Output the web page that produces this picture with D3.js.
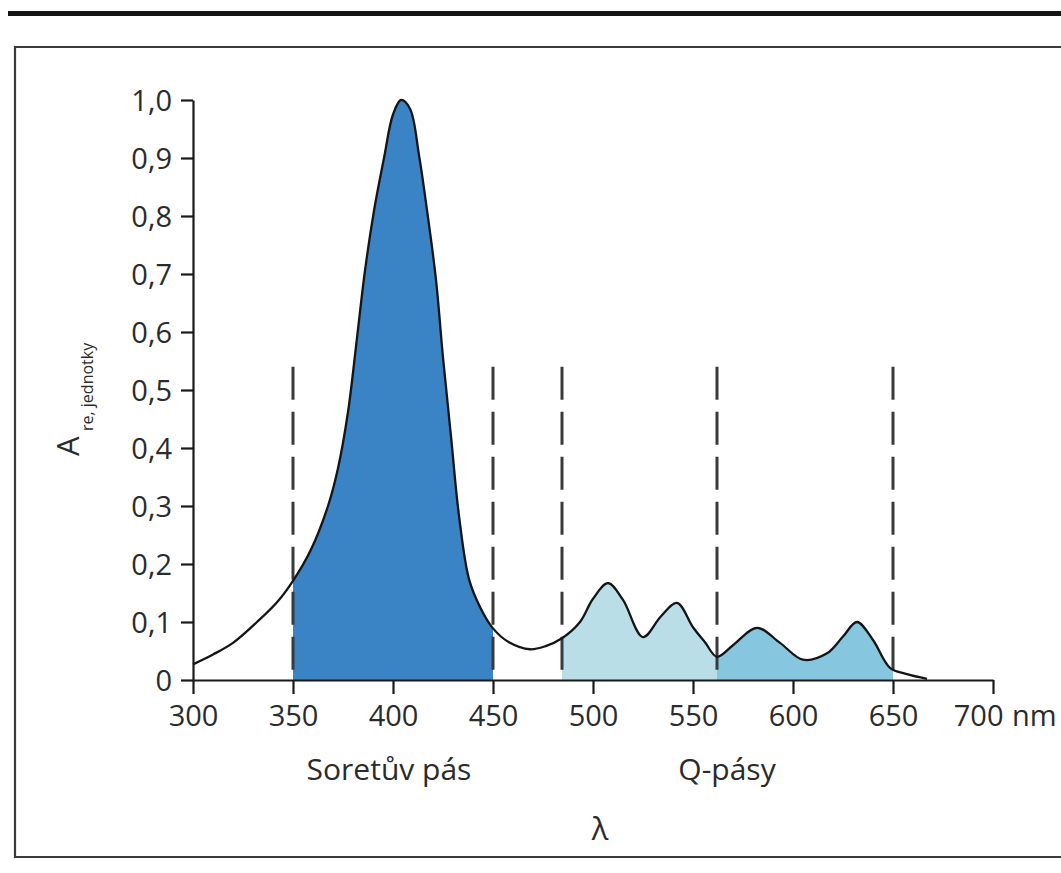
<!DOCTYPE html>
<html>
<head>
<meta charset="utf-8">
<script src="https://cdn.jsdelivr.net/npm/d3@7"></script>
<style>
  html, body { margin: 0; padding: 0; background: #ffffff; }
  svg { display: block; }
  text { font-family: "Open Sans", "Noto Sans", sans-serif; fill: #2b2b2b; }
</style>
</head>
<body>
<svg id="chart" width="1061" height="873"></svg>
<script>
// ---- data ----
const wavelengths = [300,310,320,332,342,350,359,367.5,372.5,377.5,382,386,390.5,395.5,400,404,408.5,413,417,421.5,425,429,433,438,443.5,450,458,468.5,476,484.5,493.5,500,507.5,515,525,534,542,550,556,562,570,582,593.5,605,617,625,632,640,648.5,657,667];
const absorbance  = [0.027,0.044,0.064,0.100,0.134,0.171,0.225,0.300,0.365,0.462,0.59,0.706,0.809,0.900,0.975,1.0,0.985,0.905,0.810,0.690,0.556,0.42,0.283,0.174,0.126,0.089,0.065,0.053,0.058,0.072,0.10,0.14,0.167,0.138,0.074,0.11,0.133,0.091,0.065,0.040,0.06,0.09,0.064,0.035,0.046,0.075,0.10,0.069,0.021,0.01,0.002];

const bandStarts = [350, 484.5, 562];
const bandEnds   = [450, 562, 650];
const bandColors = ["#3a83c5", "#b9dee8", "#86c7df"];
const dividerLines = [350, 450, 484.5, 562, 650];
const dividerTop = 0.54;

const xTickValues = [300,350,400,450,500,550,600,650,700];
const xTickLabels = ["300","350","400","450","500","550","600","650","700"];
const yTickValues = [0,0.1,0.2,0.3,0.4,0.5,0.6,0.7,0.8,0.9,1.0];
const yTickLabels = ["0","0,1","0,2","0,3","0,4","0,5","0,6","0,7","0,8","0,9","1,0"];

const bandLabels = ["Soretův pás", "Q-pásy"];
const bandLabelPos = [398, 567];

// ---- drawing ----
const svg = d3.select("#chart");
const data = wavelengths.map((w, i) => ({ w, a: absorbance[i] }));

const x = d3.scaleLinear().domain([300, 700]).range([193, 993]);
const y = d3.scaleLinear().domain([0, 1]).range([680, 100]);

// page decorations
svg.append("rect").attr("x", 8).attr("y", 11).attr("width", 1061).attr("height", 5).attr("fill", "#151515");
svg.append("path")
  .attr("d", "M1061,47H15V857H1061")
  .attr("fill", "none").attr("stroke", "#3a3a3a").attr("stroke-width", 2.2);

const defs = svg.append("defs");
bandStarts.forEach((s, i) => {
  defs.append("clipPath").attr("id", "band" + i)
    .append("rect")
    .attr("x", x(s)).attr("y", 0)
    .attr("width", x(bandEnds[i]) - x(s)).attr("height", y(0));
});

const curve = d3.curveCatmullRom.alpha(0.5);
const area = d3.area().x(d => x(d.w)).y0(y(0)).y1(d => y(d.a)).curve(curve);
const line = d3.line().x(d => x(d.w)).y(d => y(d.a)).curve(curve);

bandStarts.forEach((s, i) => {
  svg.append("path").datum(data)
    .attr("d", area)
    .attr("fill", bandColors[i])
    .attr("clip-path", "url(#band" + i + ")");
});

// dashed dividers
svg.selectAll(".divider").data(dividerLines).enter().append("line")
  .attr("class", "divider")
  .attr("x1", d => x(d)).attr("x2", d => x(d))
  .attr("y1", y(dividerTop)).attr("y2", y(0))
  .attr("stroke", "#3a3a3a").attr("stroke-width", 3)
  .attr("stroke-dasharray", "33,12");

// curve
svg.append("path").datum(data)
  .attr("d", line)
  .attr("fill", "none").attr("stroke", "#151515").attr("stroke-width", 2.3);

// axes
const yAxis = d3.axisLeft(y).tickValues(yTickValues)
  .tickFormat((d, i) => yTickLabels[i]).tickSize(12).tickSizeOuter(0).tickPadding(9);
const gy = svg.append("g").attr("transform", `translate(${x(300)},0)`).call(yAxis);

const xAxis = d3.axisBottom(x).tickValues(xTickValues)
  .tickFormat((d, i) => xTickLabels[i]).tickSize(14).tickSizeOuter(0).tickPadding(11);
const gx = svg.append("g").attr("transform", `translate(0,${y(0)})`).call(xAxis);

[gx, gy].forEach(g => {
  g.select(".domain").attr("stroke", "#1a1a1a").attr("stroke-width", 2.2);
  g.selectAll(".tick line").attr("stroke", "#1a1a1a").attr("stroke-width", 2.2);
  g.selectAll(".tick text").style("font-size", "29px").attr("fill", "#2b2b2b");
});
gy.selectAll(".tick text").attr("dy", "0.36em");
gx.select(".tick:last-of-type text").attr("text-anchor", "end").attr("x", 10);

// "nm" on the same baseline as the x tick labels
svg.append("text").attr("x", 1012).attr("y", y(0) + 14 + 11 + 0.71 * 29)
  .style("font-size", "29px").text("nm");

// band labels
svg.selectAll(".bandlabel").data(bandLabels).enter().append("text")
  .attr("class", "bandlabel")
  .attr("x", (d, i) => x(bandLabelPos[i])).attr("y", 780)
  .attr("text-anchor", "middle").style("font-size", "30px")
  .text(d => d);

// axis title lambda
svg.append("text").attr("x", 600).attr("y", 840).attr("text-anchor", "middle")
  .style("font-size", "31px").text("λ");

// y axis title
svg.append("text").attr("transform", "translate(79,456) rotate(-90)")
  .style("font-size", "31px").text("A");
svg.append("text").attr("transform", "translate(93,431) rotate(-90)")
  .style("font-size", "16px").text("re, jednotky");
</script>
</body>
</html>
